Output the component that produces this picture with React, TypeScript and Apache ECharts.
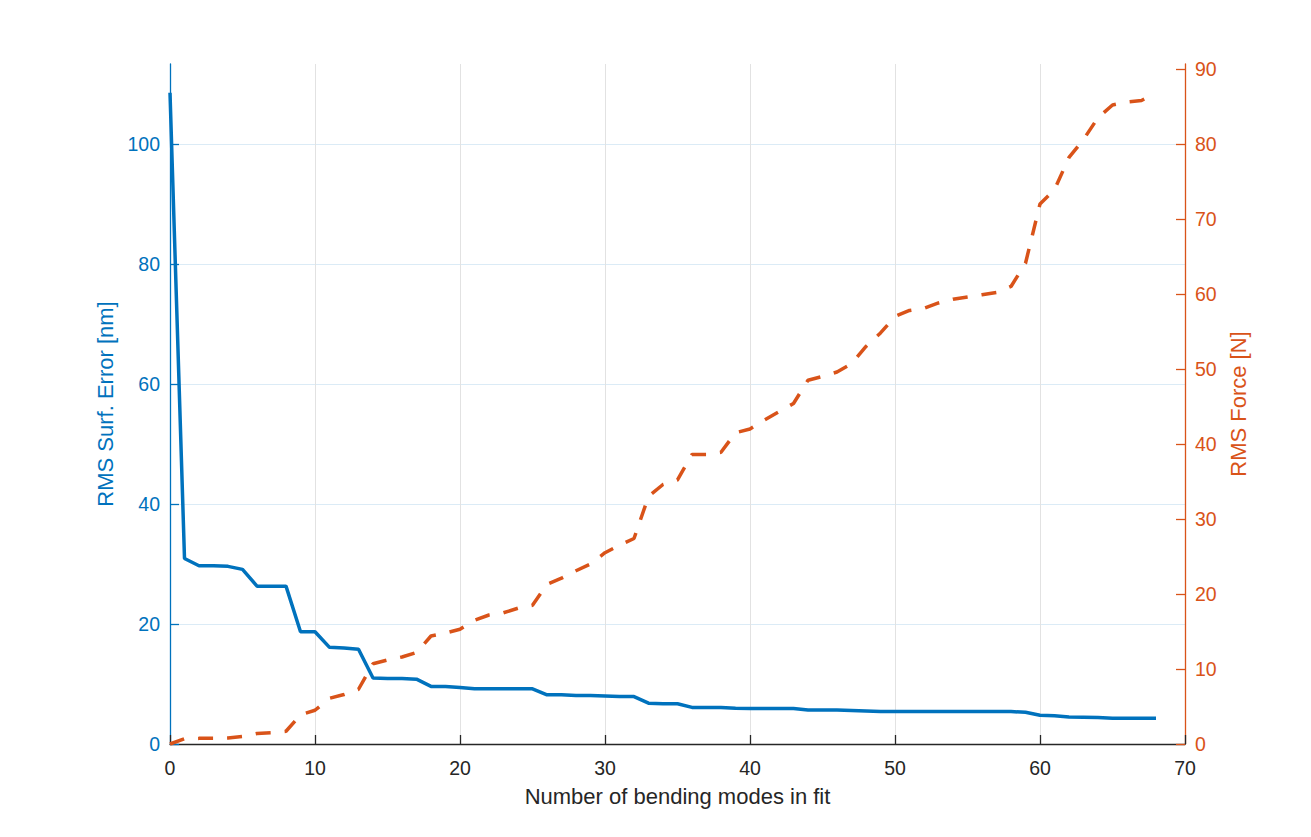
import React, { useEffect, useRef } from "react";
import * as echarts from "echarts";

const modes: number[] = Array.from({ length: 69 }, (_, i) => i);

const rmsSurfError: number[] = [
  108.5, 30.9, 29.7, 29.7, 29.6, 29.1, 26.3, 26.3, 26.3, 18.7,
  18.7, 16.1, 16.0, 15.8, 11.0, 10.9, 10.9, 10.8, 9.6, 9.6,
  9.4, 9.2, 9.2, 9.2, 9.2, 9.2, 8.2, 8.2, 8.1, 8.1,
  8.0, 7.9, 7.9, 6.8, 6.7, 6.7, 6.1, 6.1, 6.1, 5.95,
  5.9, 5.9, 5.9, 5.9, 5.67, 5.67, 5.67, 5.6, 5.5, 5.4,
  5.4, 5.4, 5.4, 5.4, 5.4, 5.4, 5.4, 5.4, 5.4, 5.3,
  4.8, 4.7, 4.5, 4.45, 4.4, 4.3, 4.3, 4.3, 4.3,
];

const rmsForce: number[] = [
  0, 0.7, 0.75, 0.75, 0.8, 1.0, 1.4, 1.5, 1.7, 3.9,
  4.5, 6.1, 6.6, 7.3, 10.7, 11.2, 11.6, 12.2, 14.4, 14.8,
  15.3, 16.5, 17.2, 17.5, 18.1, 18.5, 21.3, 22.1, 23.1, 24.0,
  25.5, 26.5, 27.4, 33.0, 34.6, 35.2, 38.6, 38.6, 38.9, 41.5,
  42.0, 43.2, 44.3, 45.4, 48.5, 49.0, 49.6, 50.7, 53.0, 54.8,
  57.0, 57.8, 58.1, 58.8, 59.3, 59.6, 59.9, 60.2, 61.0, 64.1,
  72.0, 73.9, 78.2, 80.6, 83.5, 85.2, 85.6, 85.8, 86.8,
];

const xTicks: number[] = [0, 10, 20, 30, 40, 50, 60, 70];
const leftTicks: number[] = [0, 20, 40, 60, 80, 100];
const rightTicks: number[] = [0, 10, 20, 30, 40, 50, 60, 70, 80, 90];

const FONT = "'Liberation Sans', Arial, Helvetica, sans-serif";
const BLUE = "#0072BD";
const ORANGE = "#D95319";
const DARK = "#262626";

export default function App() {
  const ref = useRef<HTMLDivElement>(null);

  useEffect(() => {
    if (!ref.current) return;
    const chart = echarts.init(ref.current, undefined, { renderer: "svg" });
    chart.setOption({
      animation: false,
      backgroundColor: "#ffffff",
      textStyle: { fontFamily: FONT },
      grid: { left: 170, top: 64, width: 1015, height: 680, containLabel: false },
      xAxis: {
        type: "value",
        min: 0,
        max: 70,
        interval: 10,
        name: "Number of bending modes in fit",
        nameLocation: "middle",
        nameGap: 41,
        nameTextStyle: { color: DARK, fontSize: 22, fontFamily: FONT },
        axisLine: { show: true, onZero: false, lineStyle: { color: DARK, width: 1.3 } },
        axisTick: { show: true, inside: true, length: 9, lineStyle: { color: DARK, width: 1.3 }, customValues: xTicks },
        axisLabel: { color: DARK, fontSize: 19.5, margin: 14, fontFamily: FONT, customValues: xTicks },
        splitLine: { show: true, lineStyle: { color: "#e2e2e2", width: 1 } },
      },
      yAxis: [
        {
          type: "value",
          position: "left",
          min: 0,
          max: 113.3,
          interval: 20,
          name: "RMS Surf. Error [nm]",
          nameLocation: "middle",
          nameRotate: 90,
          nameGap: 48,
          nameTextStyle: { color: BLUE, fontSize: 22, fontFamily: FONT },
          axisLine: { show: true, onZero: false, lineStyle: { color: BLUE, width: 1.3 } },
          axisTick: { show: true, inside: true, length: 9, lineStyle: { color: BLUE, width: 1.3 }, customValues: leftTicks },
          axisLabel: { color: BLUE, fontSize: 19.5, margin: 10, fontFamily: FONT, customValues: leftTicks },
          splitLine: { show: true, lineStyle: { color: "#dbebf6", width: 1 } },
        },
        {
          type: "value",
          position: "right",
          min: 0,
          max: 90.66,
          interval: 10,
          name: "RMS Force [N]",
          nameLocation: "middle",
          nameRotate: 90,
          nameGap: 39,
          nameTextStyle: { color: ORANGE, fontSize: 22, fontFamily: FONT },
          axisLine: { show: true, onZero: false, lineStyle: { color: ORANGE, width: 1.3 } },
          axisTick: { show: true, inside: true, length: 9, lineStyle: { color: ORANGE, width: 1.3 }, customValues: rightTicks },
          axisLabel: { color: ORANGE, fontSize: 19.5, margin: 10, fontFamily: FONT, customValues: rightTicks },
          splitLine: { show: false },
        },
      ],
      series: [
        {
          type: "line",
          name: "RMS Surf. Error",
          yAxisIndex: 0,
          data: modes.map((m, i) => [m, rmsSurfError[i]]),
          showSymbol: false,
          lineStyle: { color: BLUE, width: 3.5 },
          itemStyle: { color: BLUE },
          z: 3,
        },
        {
          type: "line",
          name: "RMS Force",
          yAxisIndex: 1,
          data: modes.map((m, i) => [m, rmsForce[i]]),
          showSymbol: false,
          lineStyle: { color: ORANGE, width: 3.5, type: [15, 14] },
          itemStyle: { color: ORANGE },
          z: 4,
        },
      ],
    });
    return () => chart.dispose();
  }, []);

  return (
    <div
      ref={ref}
      style={{ position: "fixed", left: 0, top: 0, width: 1311, height: 837 }}
    />
  );
}
